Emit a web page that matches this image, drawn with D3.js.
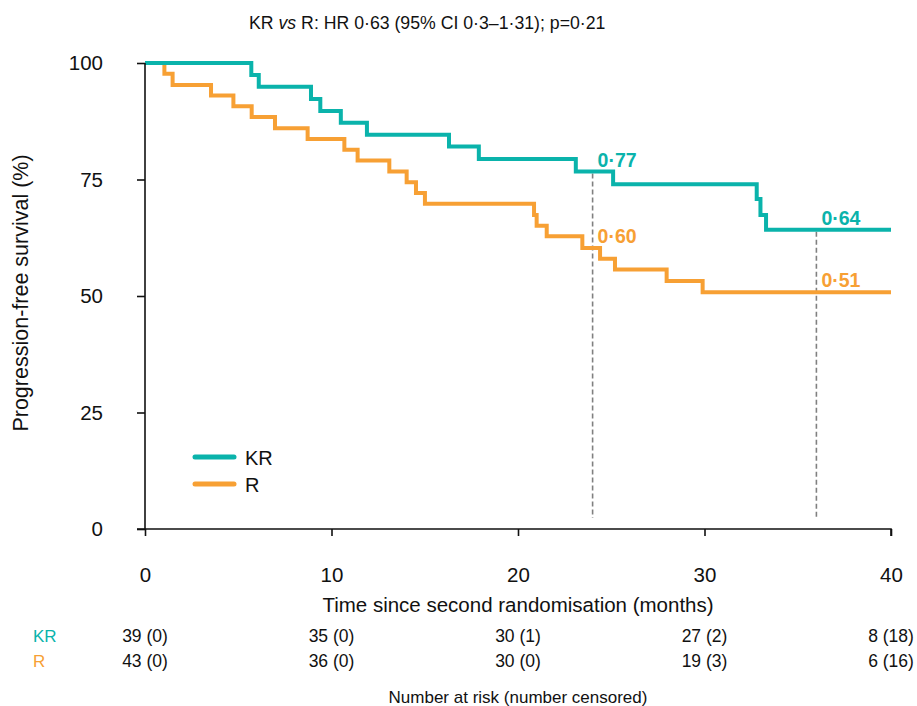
<!DOCTYPE html>
<html>
<head>
<meta charset="utf-8">
<script src="https://cdn.jsdelivr.net/npm/d3@7"></script>
<style>
  body { margin: 0; background: #fff; }
  text { font-family: "Liberation Sans", Arial, sans-serif; }
</style>
</head>
<body>
<svg id="km"></svg>
<script>
// KR arm: step times (months) and survival (%) after each step
let krTimes = [0, 5.7, 6.1, 8.9, 9.4, 10.5, 11.9, 16.3, 17.9, 23.1, 25.1, 32.8, 33.0, 33.3, 40];
let krSurv = [100, 97.4, 94.9, 92.3, 89.7, 87.2, 84.6, 82.1, 79.4, 76.7, 74.0, 70.8, 67.4, 64.2, 64.2];

// R arm
let rTimes = [0, 1.04, 1.48, 3.54, 4.74, 5.72, 6.97, 8.72, 10.69, 11.4, 13.1, 14.03, 14.53, 15.01,
  20.86, 21.0, 21.54, 23.45, 24.4, 25.2, 27.97, 29.9, 40];
let rSurv = [100, 97.7, 95.3, 93.0, 90.7, 88.4, 86.0, 83.7, 81.4, 79.1, 76.7, 74.4, 72.1, 69.8,
  67.4, 65.1, 62.8, 60.3, 58.0, 55.7, 53.2, 50.8, 50.8];

let xTicks = [0, 10, 20, 30, 40];
let yTicks = [0, 25, 50, 75, 100];

// landmark estimates at 24 and 36 months
let markTimes = [24, 36];
let krMarks = ['0·77', '0·64'];
let rMarks = ['0·60', '0·51'];

let armNames = ['KR', 'R'];
let krAtRisk = ['39 (0)', '35 (0)', '30 (1)', '27 (2)', '8 (18)'];
let rAtRisk = ['43 (0)', '36 (0)', '30 (0)', '19 (3)', '6 (16)'];

function makeChart() {
  let w = 917;
  let h = 706;

  let marginT = 63;
  let marginL = 145;
  let marginR = 26;
  let plotBottom = 529;

  let teal = '#0ab3ab';
  let orange = '#f7a034';

  let chart = d3.select('#km')
    .attr('width', w)
    .attr('height', h);

  let xScale = d3.scaleLinear()
    .domain([0, 40])
    .range([marginL, w - marginR]);

  let yScale = d3.scaleLinear()
    .domain([0, 100])
    .range([plotBottom, marginT]);

  //title
  let title = chart.append('text')
    .attr('x', 249)
    .attr('y', 29)
    .style('font-size', '17.7px')
    .style('fill', '#111');
  title.append('tspan').text('KR ');
  title.append('tspan').style('font-style', 'italic').text('vs');
  title.append('tspan').text(' R: HR 0·63 (95% CI 0·3–1·31); p=0·21');

  //dashed landmark lines
  let krAt = t => krSurv[d3.bisectRight(krTimes, t) - 1];
  let rAt = t => rSurv[d3.bisectRight(rTimes, t) - 1];

  chart.selectAll('.mark')
    .data(markTimes)
    .enter()
    .append('line')
    .attr('class', 'mark')
    .attr('x1', d => xScale(d))
    .attr('x2', d => xScale(d))
    .attr('y1', d => yScale(krAt(d)) + 2)
    .attr('y2', plotBottom - 11)
    .attr('stroke', '#808080')
    .attr('stroke-width', 1.6)
    .attr('stroke-dasharray', '5,3');

  //curves
  let line = d3.line()
    .x(d => xScale(d[0]))
    .y(d => yScale(d[1]))
    .curve(d3.curveStepAfter);

  chart.append('path')
    .datum(d3.zip(rTimes, rSurv))
    .attr('d', line)
    .attr('fill', 'none')
    .attr('stroke', orange)
    .attr('stroke-width', 4);

  chart.append('path')
    .datum(d3.zip(krTimes, krSurv))
    .attr('d', line)
    .attr('fill', 'none')
    .attr('stroke', teal)
    .attr('stroke-width', 4);

  //landmark labels
  chart.selectAll('.krmark')
    .data(markTimes)
    .enter()
    .append('text')
    .attr('x', d => xScale(d) + 5)
    .attr('y', d => yScale(krAt(d)) - 5)
    .style('font-size', '19.5px')
    .style('font-weight', 'bold')
    .style('fill', teal)
    .text((d, i) => krMarks[i]);

  chart.selectAll('.rmark')
    .data(markTimes)
    .enter()
    .append('text')
    .attr('x', d => xScale(d) + 5)
    .attr('y', d => yScale(rAt(d)) - 5)
    .style('font-size', '19.5px')
    .style('font-weight', 'bold')
    .style('fill', orange)
    .text((d, i) => rMarks[i]);

  //AXES
  let xAxis = d3.axisBottom(xScale).tickValues(xTicks).tickSize(7).tickPadding(31);
  let yAxis = d3.axisLeft(yScale).tickValues(yTicks).tickSize(8).tickPadding(34);

  let gx = chart.append('g')
    .attr('transform', `translate(0, ${plotBottom})`)
    .call(xAxis);
  gx.select('.domain').attr('d', `M${marginL - 8},0H${w - marginR}V7`);
  gx.selectAll('text').style('font-size', '20.5px').attr('fill', '#111');

  let gy = chart.append('g')
    .attr('transform', `translate(${marginL}, 0)`)
    .call(yAxis);
  gy.select('.domain').attr('d', `M0,${marginT}V${plotBottom}`);
  gy.selectAll('text').style('font-size', '20.5px').attr('fill', '#111');

  chart.selectAll('.domain, .tick line')
    .attr('stroke', '#111')
    .attr('stroke-width', 1.6);

  //LABELS
  chart.append('text')
    .attr('transform', 'rotate(-90)')
    .attr('x', -(marginT + plotBottom) / 2 + 3)
    .attr('y', 28)
    .style('text-anchor', 'middle')
    .style('font-size', '21.5px')
    .style('fill', '#111')
    .text('Progression-free survival (%)');

  chart.append('text')
    .attr('x', xScale(20))
    .attr('y', 612)
    .style('text-anchor', 'middle')
    .style('font-size', '20.5px')
    .style('fill', '#111')
    .text('Time since second randomisation (months)');

  //legend
  let legend = chart.selectAll('.legend')
    .data(armNames)
    .enter()
    .append('g')
    .attr('transform', (d, i) => `translate(195, ${457 + i * 27})`);

  legend.append('line')
    .attr('x1', 0)
    .attr('x2', 39)
    .attr('stroke', (d, i) => i == 0 ? teal : orange)
    .attr('stroke-width', 5)
    .attr('stroke-linecap', 'round');

  legend.append('text')
    .attr('x', 50)
    .attr('y', 7.5)
    .style('font-size', '20px')
    .style('fill', '#111')
    .text(d => d);

  //number at risk table
  let rows = [krAtRisk, rAtRisk];
  rows.forEach(function (row, r) {
    let yy = 642 + r * 25;
    chart.append('text')
      .attr('x', 33)
      .attr('y', yy)
      .style('font-size', '17px')
      .style('fill', r == 0 ? teal : orange)
      .text(armNames[r]);

    chart.selectAll('.risk' + r)
      .data(row)
      .enter()
      .append('text')
      .attr('x', (d, i) => xScale(xTicks[i]))
      .attr('y', yy)
      .style('text-anchor', 'middle')
      .style('font-size', '17.5px')
      .style('fill', '#111')
      .text(d => d);
  });

  chart.append('text')
    .attr('x', xScale(20))
    .attr('y', 703)
    .style('text-anchor', 'middle')
    .style('font-size', '17px')
    .style('fill', '#111')
    .text('Number at risk (number censored)');
}

window.onload = function () {
  makeChart();
}
</script>
</body>
</html>
